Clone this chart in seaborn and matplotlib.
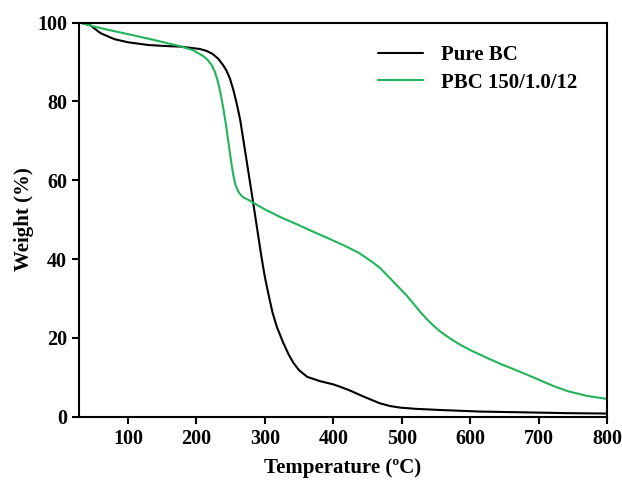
import numpy as np
import pandas as pd
import matplotlib
matplotlib.use("Agg")
import matplotlib.pyplot as plt
import seaborn as sns

# ---- data ----
bc_temp = [30, 45, 60, 80, 100, 130, 160, 176, 205, 215, 224, 232, 239, 244, 249,
           254, 259, 264, 269, 274, 281, 288, 295, 300, 305, 311, 317.5, 327, 335,
           342, 350, 362, 381, 400, 410, 425, 439, 454, 468, 483, 498, 520, 556,
           615, 680, 742, 800]
bc_weight = [100, 99.3, 97.3, 95.8, 95.0, 94.3, 94.0, 93.9, 93.3, 92.8, 92.0, 90.8,
             89.2, 87.8, 85.8, 82.9, 79.4, 75.3, 69.8, 64.3, 56.5, 48.6, 40.6, 35.5,
             31.3, 26.6, 22.8, 18.7, 15.7, 13.6, 11.8, 10.1, 9.0, 8.2, 7.6, 6.6, 5.5,
             4.4, 3.4, 2.7, 2.3, 2.0, 1.7, 1.3, 1.1, 0.9, 0.8]

pbc_temp = [30, 50, 75, 107, 140, 176, 195, 210, 216, 222, 227, 231, 235, 239, 243,
            247, 251, 254, 257, 261, 265, 269, 276, 283, 300, 322, 347, 371, 396,
            420, 437, 449, 459, 469, 478, 488, 498, 508, 517, 527, 537, 547, 557,
            571, 585, 600, 620, 644, 663, 692, 720, 742, 770, 800]
pbc_weight = [100, 99.0, 98.0, 96.8, 95.5, 94.0, 93.0, 91.5, 90.6, 89.3, 87.5, 85.3,
              82.3, 78.6, 74.3, 69.4, 64.5, 61.2, 58.9, 57.2, 56.2, 55.6, 55.0, 54.3,
              52.6, 50.7, 48.8, 46.9, 45.0, 43.1, 41.6, 40.2, 39.0, 37.6, 36.0, 34.2,
              32.4, 30.6, 28.7, 26.6, 24.7, 23.0, 21.5, 19.8, 18.3, 16.9, 15.3, 13.4,
              12.1, 10.0, 7.9, 6.5, 5.3, 4.5]

series_names = ["Pure BC", "PBC 150/1.0/12"]
series_colors = ["#000000", "#22b45a"]
x_ticks = [100, 200, 300, 400, 500, 600, 700, 800]
y_ticks = [0, 20, 40, 60, 80, 100]

df = pd.concat([
    pd.DataFrame({"T": bc_temp, "W": bc_weight, "s": series_names[0]}),
    pd.DataFrame({"T": pbc_temp, "W": pbc_weight, "s": series_names[1]}),
])

sns.set_theme(style="ticks")
plt.rcParams["font.family"] = ["Liberation Serif", "DejaVu Serif"]
plt.rcParams["font.weight"] = "bold"
plt.rcParams["text.color"] = "black"
plt.rcParams["axes.labelcolor"] = "black"
plt.rcParams["xtick.color"] = "black"
plt.rcParams["ytick.color"] = "black"
plt.rcParams["lines.solid_joinstyle"] = "round"

fig = plt.figure(figsize=(6.22, 4.86), dpi=100)
ax = fig.add_axes([0.127, 0.1426, 0.849, 0.811])

sns.lineplot(data=df, x="T", y="W", hue="s", hue_order=series_names,
             palette=series_colors, sort=False, estimator=None,
             linewidth=1.5, ax=ax)

ax.set_xlim(28.5, 800)
ax.set_ylim(0, 100)
ax.set_xticks(x_ticks)
ax.set_yticks(y_ticks)
ax.tick_params(direction="out", length=5, width=1.5, labelsize=14.5,
               colors="black", labelcolor="black")
for lab in ax.get_xticklabels() + ax.get_yticklabels():
    lab.set_fontweight("bold")
for sp in ax.spines.values():
    sp.set_visible(True)
    sp.set_linewidth(1.5)
    sp.set_color("black")

ax.set_xlabel("Temperature (ºC)", fontsize=15, fontweight="bold", labelpad=7,
              color="black")
ax.set_ylabel("Weight (%)", fontsize=15, fontweight="bold", labelpad=2,
              color="black")

leg = ax.legend(loc="upper left", bbox_to_anchor=(0.53, 0.99), frameon=False,
                handlelength=2.2, handletextpad=0.85,
                labelspacing=0.35, prop={"weight": "bold", "size": 15})
for t in leg.get_texts():
    t.set_color("black")

fig.savefig("out.png", dpi=100)
